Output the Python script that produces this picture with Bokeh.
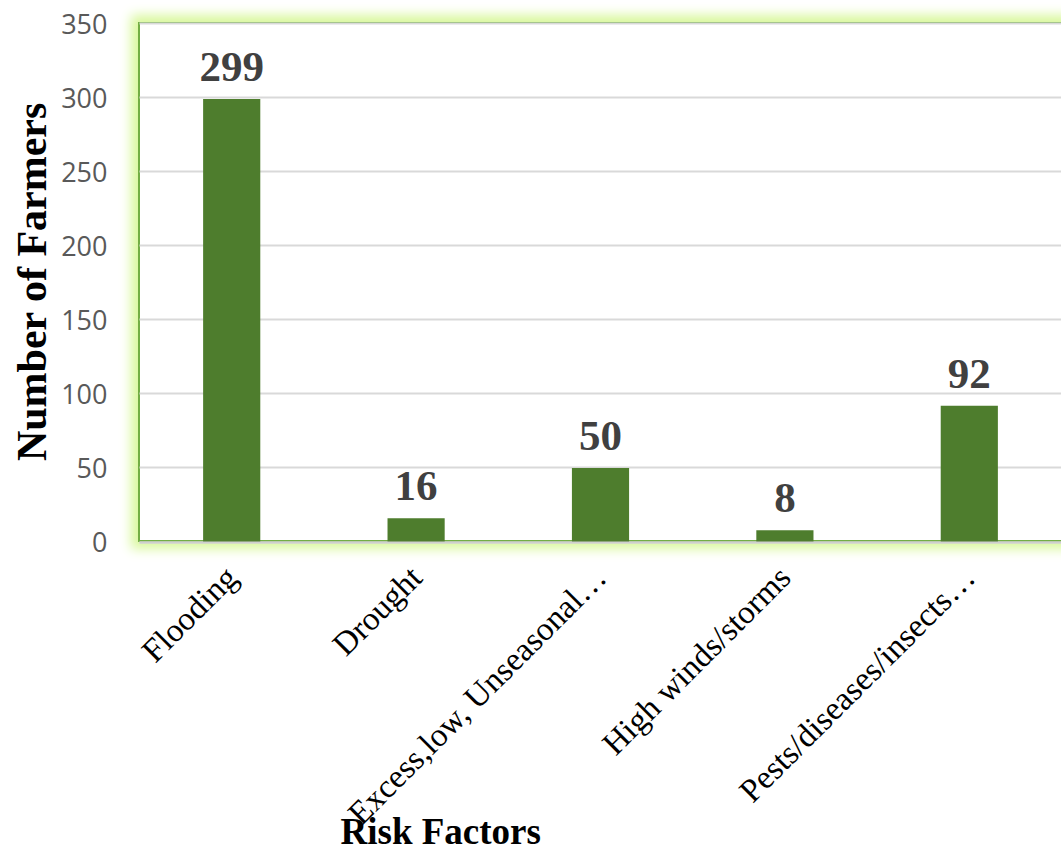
from bokeh.plotting import figure
from bokeh.models import (Range1d, FixedTicker, ColumnDataSource, LabelSet,
                          Label, InlineStyleSheet)
from bokeh.embed import file_html
from bokeh.resources import INLINE
import math

categories = ["Flooding", "Drought", "Excess,low, Unseasonal\u2026", "High winds/storms",
              "Pests/diseases/insects\u2026"]
farmers = [299, 16, 50, 8, 92]
y_ticks = [0, 50, 100, 150, 200, 250, 300, 350]
x_title = "Risk Factors"
y_title = "Number of Farmers"

idx = list(range(len(categories)))
src = ColumnDataSource(dict(x=idx, val=farmers, lab=[str(v) for v in farmers]))

W, H = 1061, 851
FL, FT, FB = 139, 23, 541.5          # plot-area edges in pixels
ppx = (W - FL) / len(categories)     # pixels per category
ppy = (FB - FT) / 350.0              # pixels per unit
x0 = -0.5 - FL / ppx
x1 = len(categories) - 0.5
y1 = 350 + FT / ppy
y0 = -(H - FB) / ppy

p = figure(width=W, height=H, output_backend="svg", toolbar_location=None,
           x_range=Range1d(x0, x1), y_range=Range1d(y0, y1),
           min_border_left=0, min_border_right=0, min_border_top=0, min_border_bottom=0)

p.border_fill_color = None
p.background_fill_color = None
p.outline_line_color = None

glow = InlineStyleSheet(css="""
:host { position: relative; background: white; overflow: hidden; }
:host::before { content: ""; position: absolute; left: 138px; top: 22px; width: 945px; height: 520px;
  box-sizing: border-box; border: 2px solid #72ae44;
  box-shadow: 0 0 11px 7px #d9f89c; background: white; z-index: 0; }
""")
p.stylesheets = [glow]

# grid
p.xgrid.grid_line_color = None
p.ygrid.grid_line_color = "#d9d9d9"
p.ygrid.grid_line_width = 2
p.ygrid.cross_bounds = (-0.5, x1 + 0.2)

p.vbar(x="x", top="val", width=0.31, source=src, color="#4e7d2d", line_color=None)

labels = LabelSet(x="x", y="val", text="lab", source=src, y_offset=18,
                  text_align="center", text_baseline="alphabetic",
                  text_font="Liberation Serif", text_font_style="bold",
                  text_font_size="43px", text_color="#404040")
p.add_layout(labels)

# y axis
p.yaxis.fixed_location = -0.5
p.yaxis.bounds = (0, 350)
p.yaxis.ticker = FixedTicker(ticks=y_ticks)
p.yaxis.axis_line_color = None
p.yaxis.major_tick_line_color = None
p.yaxis.minor_tick_line_color = None
p.yaxis.major_label_text_font = "Open Sans"
p.yaxis.major_label_text_font_size = "27px"
p.yaxis.major_label_text_color = "#595959"
p.yaxis.major_label_standoff = 26

# x axis
p.xaxis.fixed_location = 0
p.xaxis.bounds = (-0.5, x1 + 0.2)
p.xaxis.ticker = FixedTicker(ticks=idx)
p.xaxis.major_label_overrides = {i: c for i, c in zip(idx, categories)}
p.xaxis.axis_line_color = "#cfcfcf"
p.xaxis.axis_line_width = 2
p.xaxis.major_tick_line_color = None
p.xaxis.minor_tick_line_color = None
p.xaxis.major_label_orientation = math.pi / 4
p.xaxis.major_label_text_font = "Liberation Serif"
p.xaxis.major_label_text_font_size = "33px"
p.xaxis.major_label_text_color = "black"
p.xaxis.major_label_standoff = 24

p.add_layout(Label(text=y_title, x=31, y=H - 281, x_units="screen", y_units="screen",
                   angle=math.pi / 2, text_align="center", text_baseline="alphabetic",
                   text_font="Liberation Serif", text_font_style="bold",
                   text_font_size="42px", text_color="black"))

p.add_layout(Label(text=x_title, x=340, y=H - 831, x_units="screen", y_units="screen",
                   text_align="left", text_baseline="alphabetic",
                   text_font="Liberation Serif", text_font_style="bold",
                   text_font_size="37px", text_color="black"))

open("out.html", "w").write(file_html(p, INLINE))
